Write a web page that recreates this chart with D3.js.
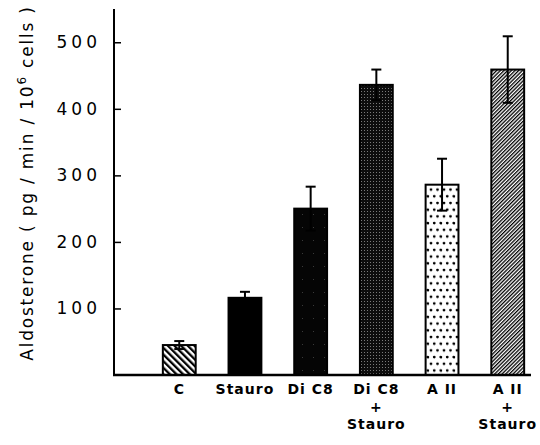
<!DOCTYPE html>
<html>
<head>
<meta charset="utf-8">
<script src="https://cdn.jsdelivr.net/npm/d3@7"></script>
<style>
  body { margin: 0; background: #fff; }
  svg { display: block; }
  text { font-family: "DejaVu Sans", sans-serif; fill: #000; }
</style>
</head>
<body>
<svg id="svg1" width="540" height="445"></svg>
<script>
// treatments, bar values and SEM
var groups = ["C", "Stauro", "DiC8", "DiC8+Stauro", "AII", "AII+Stauro"];
var labelLines = [["C"], ["Stauro"], ["Di C8"], ["Di C8", "+", "Stauro"], ["A II"], ["A II", "+", "Stauro"]];
var aldosterone = [45, 116, 250, 436, 286, 459];
var sem = [6, 9, 33, 23, 39, 50];
var fills = ["url(#hatchC)", "#000", "url(#darkDots)", "url(#grayDots)", "url(#whiteDots)", "url(#fineHatch)"];
var yTicks = [100, 200, 300, 400, 500];

var svg = d3.select('svg');

var x = d3.scaleBand().domain(groups).range([130, 557]).paddingInner(0.5).paddingOuter(0.5);
var y = d3.scaleLinear().domain([0, 550]).range([375, 9]);

// fill patterns
var defs = svg.append('defs');

var p1 = defs.append('pattern').attr('id', 'hatchC').attr('patternUnits', 'userSpaceOnUse')
  .attr('width', 4.7).attr('height', 10).attr('patternTransform', 'rotate(-45)');
p1.append('rect').attr('width', 4.7).attr('height', 10).attr('fill', '#fff');
p1.append('rect').attr('width', 2.3).attr('height', 10).attr('fill', '#000');

var p2 = defs.append('pattern').attr('id', 'darkDots').attr('patternUnits', 'userSpaceOnUse')
  .attr('width', 11).attr('height', 13);
p2.append('rect').attr('width', 11).attr('height', 13).attr('fill', '#050505');
p2.append('rect').attr('x', 5).attr('y', 6).attr('width', 1).attr('height', 1).attr('fill', '#3a3a3a');

var p3 = defs.append('pattern').attr('id', 'grayDots').attr('patternUnits', 'userSpaceOnUse')
  .attr('width', 3).attr('height', 3);
p3.append('rect').attr('width', 3).attr('height', 3).attr('fill', '#0d0d0d');
p3.append('rect').attr('x', 1).attr('y', 1).attr('width', 1).attr('height', 1).attr('fill', '#7a7a7a');

var p4 = defs.append('pattern').attr('id', 'whiteDots').attr('patternUnits', 'userSpaceOnUse')
  .attr('width', 13).attr('height', 13.4).attr('x', 0).attr('y', 0);
p4.append('rect').attr('width', 13).attr('height', 13.4).attr('fill', '#fff');
[[2, 2], [8.5, 2], [5.25, 8.7], [11.75, 8.7], [-1.25, 8.7]].forEach(function(d) {
  p4.append('circle').attr('cx', d[0]).attr('cy', d[1]).attr('r', 1.4).attr('fill', '#000');
});

var p5 = defs.append('pattern').attr('id', 'fineHatch').attr('patternUnits', 'userSpaceOnUse')
  .attr('width', 2.6).attr('height', 10).attr('patternTransform', 'rotate(45)');
p5.append('rect').attr('width', 2.6).attr('height', 10).attr('fill', '#fff');
p5.append('rect').attr('width', 1.3).attr('height', 10).attr('fill', '#000');

// bars
svg.selectAll('rect.bar')
  .data(groups)
  .enter()
  .append('rect')
  .attr('class', 'bar')
  .attr('x', function(d) { return x(d); })
  .attr('y', function(d, i) { return y(aldosterone[i]); })
  .attr('width', x.bandwidth())
  .attr('height', function(d, i) { return y(0) - y(aldosterone[i]); })
  .attr('fill', function(d, i) { return fills[i]; })
  .attr('stroke', '#000')
  .attr('stroke-width', 2);

// error bars
var err = svg.selectAll('g.err')
  .data(groups)
  .enter()
  .append('g')
  .attr('class', 'err')
  .attr('stroke', '#000')
  .attr('stroke-width', 2);

err.append('line')
  .attr('x1', function(d) { return x(d) + x.bandwidth() / 2; })
  .attr('x2', function(d) { return x(d) + x.bandwidth() / 2; })
  .attr('y1', function(d, i) { return y(aldosterone[i] - sem[i]); })
  .attr('y2', function(d, i) { return y(aldosterone[i] + sem[i]); });

err.append('line')
  .attr('x1', function(d) { return x(d) + x.bandwidth() / 2 - 5; })
  .attr('x2', function(d) { return x(d) + x.bandwidth() / 2 + 5; })
  .attr('y1', function(d, i) { return y(aldosterone[i] + sem[i]); })
  .attr('y2', function(d, i) { return y(aldosterone[i] + sem[i]); });

err.append('line')
  .attr('x1', function(d) { return x(d) + x.bandwidth() / 2 - 5; })
  .attr('x2', function(d) { return x(d) + x.bandwidth() / 2 + 5; })
  .attr('y1', function(d, i) { return y(aldosterone[i] - sem[i]); })
  .attr('y2', function(d, i) { return y(aldosterone[i] - sem[i]); });

// y axis, ticks pointing inward
var yAxis = svg.append('g')
  .attr('transform', 'translate(114,0)')
  .call(d3.axisRight(y).tickValues(yTicks).tickSize(7).tickFormat(''));
yAxis.select('.domain').remove();
yAxis.selectAll('line').attr('stroke-width', 1.5);

svg.append('line')
  .attr('x1', 114).attr('x2', 114)
  .attr('y1', y(550)).attr('y2', y(0) + 1)
  .attr('stroke', '#000').attr('stroke-width', 2);

svg.append('line')
  .attr('x1', 113).attr('x2', 531)
  .attr('y1', y(0)).attr('y2', y(0))
  .attr('stroke', '#000').attr('stroke-width', 2.5);

svg.selectAll('text.tick')
  .data(yTicks)
  .enter()
  .append('text')
  .attr('class', 'tick')
  .attr('x', 101)
  .attr('y', function(d) { return y(d) + 6; })
  .attr('text-anchor', 'end')
  .attr('font-size', 17)
  .attr('letter-spacing', 4)
  .text(function(d) { return d; });

// y axis title
var title = svg.append('text')
  .attr('transform', 'translate(33,183) rotate(-90)')
  .attr('text-anchor', 'middle')
  .attr('font-size', 17)
  .attr('letter-spacing', 1.8);
title.append('tspan').text('Aldosterone ( pg / min / 10');
title.append('tspan').attr('font-size', 12).attr('dy', -7).text('6');
title.append('tspan').attr('dy', 7).text(' cells )');

// category labels
var lab = svg.selectAll('text.cat')
  .data(groups)
  .enter()
  .append('text')
  .attr('class', 'cat')
  .attr('text-anchor', 'middle')
  .attr('font-size', 14)
  .attr('font-weight', 'bold')
  .attr('letter-spacing', 1);

lab.each(function(d, i) {
  var t = d3.select(this);
  labelLines[i].forEach(function(s, j) {
    t.append('tspan')
      .attr('x', x(d) + x.bandwidth() / 2)
      .attr('y', 394 + j * 17.5)
      .text(s);
  });
});
</script>
</body>
</html>
